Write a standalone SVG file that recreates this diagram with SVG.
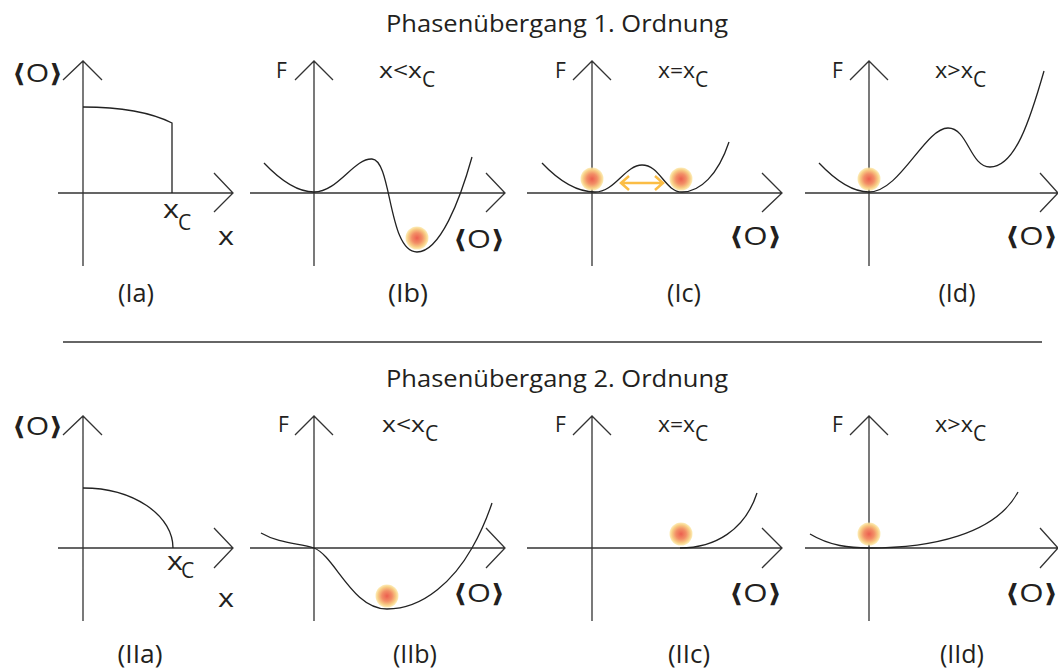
<svg xmlns="http://www.w3.org/2000/svg" width="1058" height="670" viewBox="0 0 1058 670">
<defs>
<style>
.ax{fill:none;stroke:#333;stroke-width:1.3}
.cv{fill:none;stroke:#222;stroke-width:1.3}
.t{font-family:"Open Sans","DejaVu Sans",sans-serif;fill:#231f20}
.ttl{font-size:24px}
.lab{font-size:25px}
.f{font-size:21px}
.cond{font-size:22px}
.o{font-size:25px}
.x{font-size:25px}
.sub{font-size:21px}
.br{font-weight:bold}
</style>
<radialGradient id="ball">
<stop offset="0" stop-color="#ec5f4f"/>
<stop offset="0.45" stop-color="#f28e66"/>
<stop offset="0.8" stop-color="#f8cf86"/>
<stop offset="1" stop-color="#fce6a2" stop-opacity="0.75"/>
</radialGradient>
</defs>
<rect width="1058" height="670" fill="#fff"/>

<text class="t ttl" x="386" y="32" textLength="342" lengthAdjust="spacingAndGlyphs">Phasenübergang 1. Ordnung</text>
<line class="ax" x1="63" y1="342" x2="1042" y2="342"/>
<text class="t ttl" x="386" y="387" textLength="342" lengthAdjust="spacingAndGlyphs">Phasenübergang 2. Ordnung</text>

<g id="Ia">
<path class="ax" d="M83,266V61M63,80L83,61L102,80M58,193H233M214,173L233,193L214,212"/>
<path class="cv" d="M83,107C120,107 150,112 172,123V193"/>
<text class="t o" x="12" y="82" textLength="51" lengthAdjust="spacingAndGlyphs"><tspan class="br">⟨</tspan>O<tspan class="br">⟩</tspan></text>
<text class="t x" x="163" y="218" textLength="16" lengthAdjust="spacingAndGlyphs">x</text><text class="t sub" x="178" y="230">C</text>
<text class="t x" x="218" y="245" textLength="16" lengthAdjust="spacingAndGlyphs">x</text>
<text class="t lab" x="136" y="302" text-anchor="middle" textLength="36" lengthAdjust="spacingAndGlyphs">(Ia)</text>
</g>

<g id="Ib">
<path class="ax" d="M314,266V61M295,80L314,61L333,80M250,193H505M486,173L505,193L486,212"/>
<path class="cv" d="M264,163C282,182 298,192 314,192C338,192 354,158 372,159C392,160 388,252 417,252C440,252 460,200 472,157"/>
<circle cx="417" cy="238" r="11.5" fill="url(#ball)"/>
<text class="t f" x="276" y="78">F</text>
<text class="t cond" x="379" y="78" textLength="43" lengthAdjust="spacingAndGlyphs">x&lt;x</text><text class="t sub" x="422" y="87">C</text>
<text class="t o" x="453" y="248" textLength="52" lengthAdjust="spacingAndGlyphs"><tspan class="br">⟨</tspan>O<tspan class="br">⟩</tspan></text>
<text class="t lab" x="408" y="302" text-anchor="middle" textLength="40" lengthAdjust="spacingAndGlyphs">(Ib)</text>
</g>

<g id="Ic">
<path class="ax" d="M592,266V61M573,80L592,61L611,80M527,193H782M762,173L782,193L762,212"/>
<path class="cv" d="M542,163C560,182 578,192 595,192C615,192 625,165 642,165C660,165 665,192 682,192C700,192 718,175 729,142"/>
<circle cx="592" cy="179" r="11.5" fill="url(#ball)"/>
<circle cx="681" cy="179" r="11.5" fill="url(#ball)"/>
<path d="M621,183H663M629,176L621,183L629,190M655,176L663,183L655,190" fill="none" stroke="#fbbd45" stroke-width="2.5"/>
<text class="t f" x="555" y="78">F</text>
<text class="t cond" x="658" y="78" textLength="37" lengthAdjust="spacingAndGlyphs">x=x</text><text class="t sub" x="695" y="87">C</text>
<text class="t o" x="729" y="245" textLength="53" lengthAdjust="spacingAndGlyphs"><tspan class="br">⟨</tspan>O<tspan class="br">⟩</tspan></text>
<text class="t lab" x="684" y="302" text-anchor="middle" textLength="34" lengthAdjust="spacingAndGlyphs">(Ic)</text>
</g>

<g id="Id">
<path class="ax" d="M869,266V61M850,80L869,61L888,80M805,193H1058M1040,173L1058,193L1040,212"/>
<path class="cv" d="M819,163C837,182 853,192 869,192C900,192 925,128 948,128C968,128 970,167 990,167C1015,167 1030,120 1044,71"/>
<circle cx="869" cy="179" r="11.5" fill="url(#ball)"/>
<text class="t f" x="832" y="78">F</text>
<text class="t cond" x="935" y="78" textLength="38" lengthAdjust="spacingAndGlyphs">x&gt;x</text><text class="t sub" x="973" y="87">C</text>
<text class="t o" x="1005" y="245" textLength="53" lengthAdjust="spacingAndGlyphs"><tspan class="br">⟨</tspan>O<tspan class="br">⟩</tspan></text>
<text class="t lab" x="957" y="302" text-anchor="middle" textLength="37" lengthAdjust="spacingAndGlyphs">(Id)</text>
</g>

<g id="IIa">
<path class="ax" d="M83,621V416M63,435L83,416L102,435M58,548H233M214,528L233,548L214,568"/>
<path class="cv" d="M83,488A90,60 0 0 1 173,548"/>
<text class="t o" x="12" y="435" textLength="51" lengthAdjust="spacingAndGlyphs"><tspan class="br">⟨</tspan>O<tspan class="br">⟩</tspan></text>
<text class="t x" x="167" y="570" textLength="16" lengthAdjust="spacingAndGlyphs">x</text><text class="t sub" x="181" y="578">C</text>
<text class="t x" x="218" y="607" textLength="16" lengthAdjust="spacingAndGlyphs">x</text>
<text class="t lab" x="140" y="663" text-anchor="middle" textLength="45" lengthAdjust="spacingAndGlyphs">(IIa)</text>
</g>

<g id="IIb">
<path class="ax" d="M314,621V416M295,435L314,416L333,435M250,548H505M486,528L505,548L486,568"/>
<path class="cv" d="M261,533C280,544 300,543 314,548C335,556 352,609 387,609C425,609 455,578 472,548C480,534 487,518 492,503"/>
<circle cx="387" cy="596" r="11.5" fill="url(#ball)"/>
<text class="t f" x="278" y="432">F</text>
<text class="t cond" x="382" y="432" textLength="43" lengthAdjust="spacingAndGlyphs">x&lt;x</text><text class="t sub" x="425" y="441">C</text>
<text class="t o" x="453" y="602" textLength="52" lengthAdjust="spacingAndGlyphs"><tspan class="br">⟨</tspan>O<tspan class="br">⟩</tspan></text>
<text class="t lab" x="415" y="663" text-anchor="middle" textLength="44" lengthAdjust="spacingAndGlyphs">(IIb)</text>
</g>

<g id="IIc">
<path class="ax" d="M592,621V416M573,435L592,416L611,435M527,548H782M762,528L782,548L762,568"/>
<path class="cv" d="M680,548C715,548 745,530 757,493"/>
<circle cx="681" cy="534" r="11.5" fill="url(#ball)"/>
<text class="t f" x="555" y="432">F</text>
<text class="t cond" x="658" y="432" textLength="37" lengthAdjust="spacingAndGlyphs">x=x</text><text class="t sub" x="695" y="441">C</text>
<text class="t o" x="729" y="602" textLength="53" lengthAdjust="spacingAndGlyphs"><tspan class="br">⟨</tspan>O<tspan class="br">⟩</tspan></text>
<text class="t lab" x="689" y="663" text-anchor="middle" textLength="42" lengthAdjust="spacingAndGlyphs">(IIc)</text>
</g>

<g id="IId">
<path class="ax" d="M869,621V416M850,435L869,416L888,435M805,548H1058M1040,528L1058,548L1040,568"/>
<path class="cv" d="M810,534C830,546 850,548 869,548C930,548 995,535 1018,492"/>
<circle cx="869" cy="534" r="11.5" fill="url(#ball)"/>
<text class="t f" x="832" y="432">F</text>
<text class="t cond" x="935" y="432" textLength="38" lengthAdjust="spacingAndGlyphs">x&gt;x</text><text class="t sub" x="973" y="441">C</text>
<text class="t o" x="1005" y="602" textLength="53" lengthAdjust="spacingAndGlyphs"><tspan class="br">⟨</tspan>O<tspan class="br">⟩</tspan></text>
<text class="t lab" x="962" y="663" text-anchor="middle" textLength="44" lengthAdjust="spacingAndGlyphs">(IId)</text>
</g>

<g id="connectors"></g>
</svg>
